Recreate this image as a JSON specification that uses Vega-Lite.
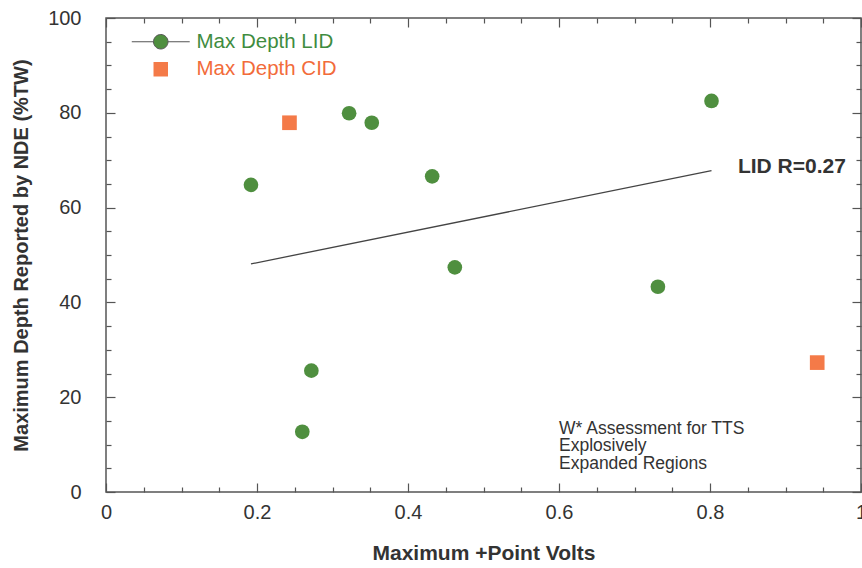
{
  "$schema": "https://vega.github.io/schema/vega-lite/v6.json",
  "width": 755,
  "height": 474,
  "autosize": {"type": "none"},
  "padding": {"left": 106, "top": 18, "right": 1, "bottom": 76},
  "background": "white",
  "config": {
    "view": {"stroke": "#555555", "strokeWidth": 1.5},
    "font": "Liberation Sans",
    "axis": {"domain": false, "grid": false, "tickColor": "#555555", "tickWidth": 1.2, "tickSize": 9, "labelColor": "#333333", "titleColor": "#333333", "labelFont": "Liberation Sans", "titleFont": "Liberation Sans"}
  },
  "datasets": {
    "pts": [
      {"volts": 0.192, "depth": 64.8, "series": "Max Depth LID"},
      {"volts": 0.322, "depth": 79.9, "series": "Max Depth LID"},
      {"volts": 0.352, "depth": 77.9, "series": "Max Depth LID"},
      {"volts": 0.432, "depth": 66.6, "series": "Max Depth LID"},
      {"volts": 0.462, "depth": 47.4, "series": "Max Depth LID"},
      {"volts": 0.272, "depth": 25.6, "series": "Max Depth LID"},
      {"volts": 0.260, "depth": 12.7, "series": "Max Depth LID"},
      {"volts": 0.731, "depth": 43.3, "series": "Max Depth LID"},
      {"volts": 0.802, "depth": 82.5, "series": "Max Depth LID"},
      {"volts": 0.243, "depth": 77.9, "series": "Max Depth CID"},
      {"volts": 0.942, "depth": 27.3, "series": "Max Depth CID"}
    ]
  },
  "layer": [
    {
      "data": {"name": "pts"},
      "transform": [
        {"filter": "datum.series === 'Max Depth LID'"},
        {"regression": "depth", "on": "volts"}
      ],
      "mark": {"type": "line", "color": "#444444", "strokeWidth": 1.3},
      "encoding": {
        "x": {
          "field": "volts", "type": "quantitative",
          "scale": {"domain": [0, 1], "nice": false, "zero": false},
          "axis": {
            "orient": "bottom",
            "title": "Maximum +Point Volts",
            "titleFontSize": 21, "titleFontWeight": "bold", "titlePadding": 20,
            "values": [0,0.05,0.1,0.15,0.2,0.25,0.3,0.35,0.4,0.45,0.5,0.55,0.6,0.65,0.7,0.75,0.8,0.85,0.9,0.95,1],
            "labelExpr": "abs(datum.value*5 - round(datum.value*5)) < 1e-6 ? '' + datum.value : ''",
            "labelFontSize": 20, "labelPadding": 1, "labelFlush": false, "labelOverlap": false,
            "encoding": {"ticks": {"y2": {"value": {"expr": "abs(datum.value*5 - round(datum.value*5)) < 1e-6 ? -9 : -5"}}}}
          }
        },
        "y": {
          "field": "depth", "type": "quantitative",
          "scale": {"domain": [0, 100], "nice": false, "zero": false},
          "axis": {
            "orient": "left",
            "title": "Maximum Depth Reported by NDE (%TW)",
            "titleFontSize": 20, "titleFontWeight": "bold", "titlePadding": 16,
            "values": [0,5,10,15,20,25,30,35,40,45,50,55,60,65,70,75,80,85,90,95,100],
            "labelExpr": "datum.value % 20 === 0 ? '' + datum.value : ''",
            "labelFontSize": 20, "labelPadding": 16, "labelFlush": false, "labelOverlap": false,
            "encoding": {"ticks": {"x2": {"value": {"expr": "datum.value % 20 === 0 ? 9 : 5"}}}}
          }
        }
      }
    },
    {
      "data": {"name": "pts"},
      "mark": {"type": "point", "filled": true, "opacity": 0, "size": 210},
      "encoding": {
        "x": {"field": "volts", "type": "quantitative", "axis": null},
        "y": {"field": "depth", "type": "quantitative", "axis": null},
        "color": {
          "field": "series", "type": "nominal",
          "scale": {"domain": ["Max Depth LID", "Max Depth CID"], "range": ["#4f8f3f", "#f47a48"]},
          "legend": {
            "orient": "none", "legendX": 44.5, "legendY": 13.5, "title": null,
            "padding": 0, "labelFontSize": 20.5, "labelFont": "Liberation Sans",
            "symbolSize": 210, "symbolOpacity": 1, "labelOffset": 25.5, "rowPadding": 6.5,
            "encoding": {
              "symbols": {
                "stroke": {"value": {"expr": "datum.value === 'Max Depth LID' ? '#555555' : null"}},
                "strokeWidth": {"value": 1}
              },
              "labels": {"fill": {"value": {"expr": "datum.value === 'Max Depth LID' ? '#3f8c3f' : '#f26b3a'"}}}
            }
          }
        },
        "shape": {
          "field": "series", "type": "nominal",
          "scale": {"domain": ["Max Depth LID", "Max Depth CID"], "range": ["M-4,0L-1,0M1,0L4,0M1,0A1,1,0,1,1,-1,0A1,1,0,1,1,1,0Z", "square"]},
          "legend": null
        }
      }
    },
    {
      "data": {"name": "pts"},
      "mark": {"type": "point", "filled": true, "opacity": 1, "size": 215},
      "encoding": {
        "x": {"field": "volts", "type": "quantitative", "axis": null},
        "y": {"field": "depth", "type": "quantitative", "axis": null},
        "color": {"field": "series", "type": "nominal", "legend": null},
        "shape": {"condition": {"test": "datum.series === 'Max Depth LID'", "value": "circle"}, "value": "square"}
      }
    },
    {
      "data": {"values": [{"volts": 0.837, "depth": 67.3, "label": "LID R=0.27"}]},
      "mark": {"type": "text", "align": "left", "baseline": "alphabetic", "fontSize": 21, "fontWeight": "bold", "color": "#333333"},
      "encoding": {
        "x": {"field": "volts", "type": "quantitative",
          "axis": {"orient": "top", "title": null, "labels": false,
            "values": [0,0.05,0.1,0.15,0.2,0.25,0.3,0.35,0.4,0.45,0.5,0.55,0.6,0.65,0.7,0.75,0.8,0.85,0.9,0.95,1],
            "encoding": {"ticks": {"y2": {"value": {"expr": "abs(datum.value*5 - round(datum.value*5)) < 1e-6 ? 9 : 5"}}}}}},
        "y": {"field": "depth", "type": "quantitative",
          "axis": {"orient": "right", "title": null, "labels": false,
            "values": [0,5,10,15,20,25,30,35,40,45,50,55,60,65,70,75,80,85,90,95,100],
            "encoding": {"ticks": {"x2": {"value": {"expr": "datum.value % 20 === 0 ? -9 : -5"}}}}}},
        "text": {"field": "label"}
      }
    },
    {
      "data": {"values": [{"volts": 0.6, "depth": 12.3, "label": "W* Assessment for TTS\nExplosively\nExpanded Regions"}]},
      "mark": {"type": "text", "align": "left", "baseline": "alphabetic", "fontSize": 17.5, "lineHeight": 17.5, "lineBreak": "\n", "color": "#333333"},
      "encoding": {
        "x": {"field": "volts", "type": "quantitative", "axis": null},
        "y": {"field": "depth", "type": "quantitative", "axis": null},
        "text": {"field": "label"}
      }
    }
  ]
}
